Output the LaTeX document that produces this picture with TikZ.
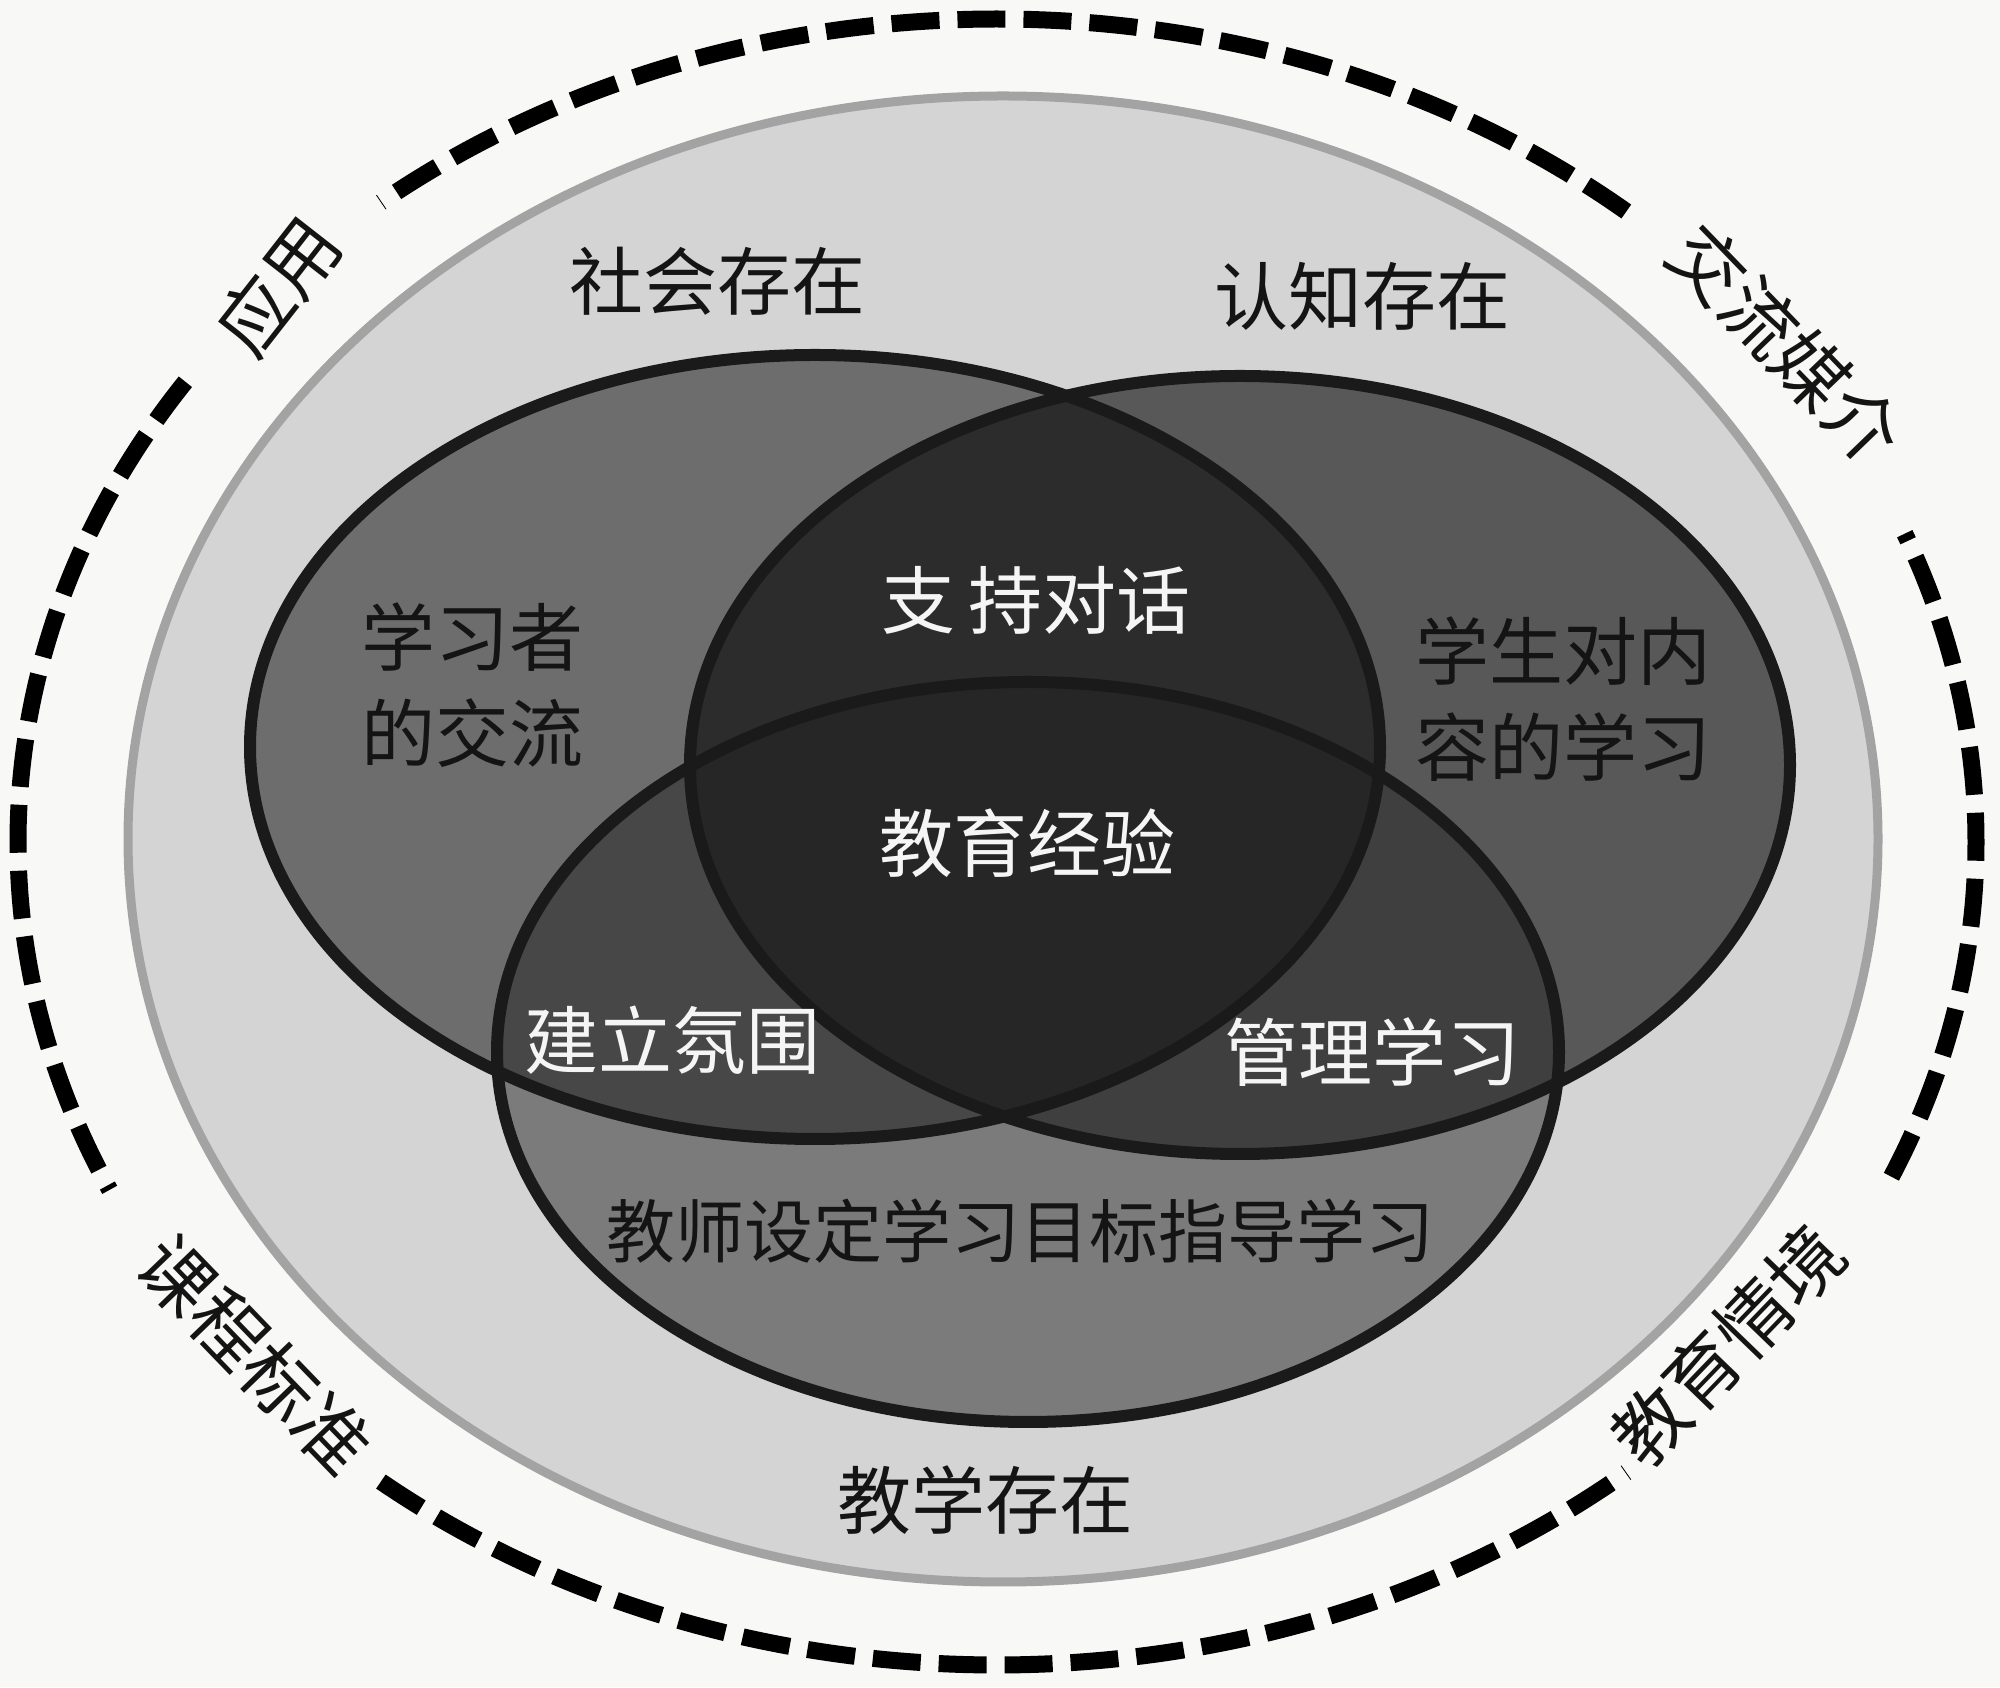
\documentclass[tikz,border=0pt]{standalone}
\usepackage{fontspec}
\newfontfamily\cjk{Noto Sans CJK SC}
\usetikzlibrary{calc}
\definecolor{bg}{HTML}{F8F8F7}
\definecolor{lightfill}{HTML}{D4D4D4}
\definecolor{lightborder}{HTML}{A3A3A3}
\definecolor{cL}{HTML}{6D6D6D}
\definecolor{cR}{HTML}{585858}
\definecolor{cB}{HTML}{7B7B7B}
\definecolor{cLR}{HTML}{2C2C2C}
\definecolor{cLB}{HTML}{474747}
\definecolor{cRB}{HTML}{3F3F3F}
\definecolor{cLRB}{HTML}{262626}
\definecolor{bordc}{HTML}{1A1A1A}
\def\ellL{(815,940) ellipse [x radius=565pt, y radius=392pt]}
\def\ellR{(1240,922) ellipse [x radius=550pt, y radius=389pt]}
\def\ellB{(1028,635) ellipse [x radius=531pt, y radius=370pt]}
\begin{document}
\begin{tikzpicture}[x=1pt,y=1pt,
  ring/.style={line width=17pt, dash pattern=on 48pt off 18pt, draw=black},
  bord/.style={draw=bordc, line width=12pt},
  lab/.style={font=\cjk\fontsize{74}{96}\selectfont, text=black!92, align=center, inner sep=0pt},
  wlab/.style={lab, text=white!96!black},
  ]
\useasboundingbox (0,0) rectangle (2000,1687);
\fill[bg] (0,0) rectangle (2000,1687);
% outer dashed ring
\coordinate (C) at (997,845);
\draw[ring] ($(C)+(50:979pt and 823pt)$) arc[start angle=50, end angle=129, x radius=979pt, y radius=823pt];
\draw[ring] ($(C)+(146:979pt and 823pt)$) arc[start angle=146, end angle=205, x radius=979pt, y radius=823pt];
\draw[ring] ($(C)+(231:979pt and 823pt)$) arc[start angle=231, end angle=310, x radius=979pt, y radius=823pt];
\draw[ring] ($(C)+(336:979pt and 823pt)$) arc[start angle=336, end angle=382, x radius=979pt, y radius=823pt];
% light ellipse
\filldraw[fill=lightfill, draw=lightborder, line width=9pt] (1003,848) ellipse [x radius=875pt, y radius=743pt];
% three ellipses
\fill[cL] \ellL;
\fill[cR] \ellR;
\fill[cB] \ellB;
\begin{scope}
  \clip \ellL;
  \fill[cLR] \ellR;
  \fill[cLB] \ellB;
\end{scope}
\begin{scope}
  \clip \ellR;
  \fill[cRB] \ellB;
  \clip \ellL;
  \fill[cLRB] \ellB;
\end{scope}
\draw[bord] \ellL;
\draw[bord] \ellR;
\draw[bord] \ellB;
% labels
\node[lab] (social) at (717,1406) {社会存在};
\node[lab] (cognitive) at (1362,1391) {认知存在};
\node[lab] (teaching) at (985,187) {教学存在};
\node[lab, rotate=52] (apply) at (278,1401) {应用};
\node[lab, rotate=-46] (media) at (1786,1343) {交流媒介};
\node[lab, rotate=-46] (curr) at (255,332) {课程标准};
\node[lab, rotate=46] (context) at (1728,342) {教育情境};
\node[lab] (learners) at (472,1002) {学习者\\的交流};
\node[lab] (content) at (1563,988) {学生对内\\容的学习};
\node[wlab] (dialog) at (1036,1087) {支\hspace{14pt}持对话};
\node[wlab] (exp) at (1027,844) {教育经验};
\node[wlab] (climate) at (672,647) {建立氛围};
\node[wlab] (manage) at (1372,635) {管理学习};
\node[lab, font=\cjk\fontsize{69}{90}\selectfont] (goals) at (1020,456) {教师设定学习目标指导学习};
\end{tikzpicture}
\end{document}
